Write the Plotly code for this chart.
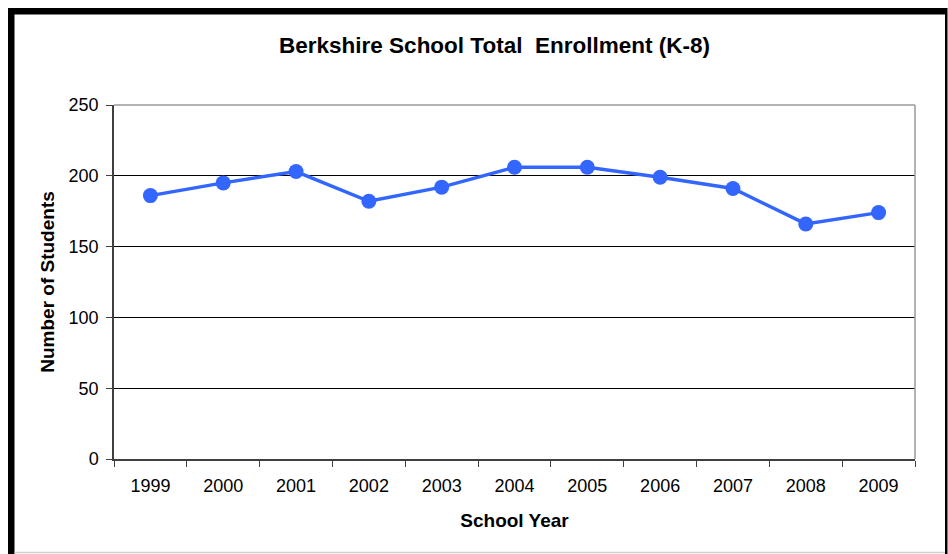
import plotly.graph_objects as go

years = ["1999", "2000", "2001", "2002", "2003", "2004", "2005", "2006", "2007", "2008", "2009"]
students = [186, 195, 203, 182, 192, 206, 206, 199, 191, 166, 174]
y_ticks = [0, 50, 100, 150, 200, 250]

W, H = 948, 554
L, R, T, B = 114, 33, 105, 95
pw, ph = W - L - R, H - T - B

def px_x(p):
    return (p - L) / pw

def px_y(p):
    return (H - B - p) / ph

fig = go.Figure()
fig.add_trace(go.Scatter(
    x=years, y=students, mode="lines+markers",
    line=dict(color="#3366FF", width=3.5),
    marker=dict(color="#3366FF", size=15),
    cliponaxis=False, showlegend=False,
))

font = "Liberation Sans, Arial, sans-serif"
fig.update_layout(
    width=W, height=H,
    margin=dict(l=L, r=R, t=T, b=B),
    paper_bgcolor="white", plot_bgcolor="white",
    font=dict(family=font, color="black", size=18),
    title=dict(text="<b>Berkshire School Total  Enrollment (K-8)</b>",
               x=px_x(494.5), xref="paper", xanchor="center",
               y=1 - 45 / H, yanchor="middle",
               font=dict(size=22.5, family=font, color="black")),
    xaxis=dict(type="category", range=[-0.5, 10.5], tickson="boundaries",
               ticks="outside", ticklen=6, tickcolor="#404040",
               showline=True, linecolor="#404040", linewidth=1.5,
               showgrid=False, zeroline=False,
               tickfont=dict(size=18), ticklabelstandoff=10,
               title=dict(text="<b>School Year</b>", font=dict(size=19), standoff=18)),
    yaxis=dict(range=[0, 250], tickvals=y_ticks, ticks="outside", ticklen=6,
               tickcolor="#404040", showline=True, linecolor="#404040", linewidth=1.5,
               showgrid=True, gridcolor="black", gridwidth=1, zeroline=False,
               tickfont=dict(size=18), ticklabelstandoff=4,
               title=dict(text="<b>Number of Students</b>", font=dict(size=19), standoff=9)),
)

shapes = [
    # plot-area top and right border (gray)
    dict(type="line", xref="paper", yref="paper", x0=0, x1=1, y0=1, y1=1,
         line=dict(color="#9a9a9a", width=1.5), layer="above"),
    dict(type="line", xref="paper", yref="paper", x0=1, x1=1, y0=0, y1=1,
         line=dict(color="#9a9a9a", width=1.5), layer="above"),
    # outer frame: thick black top and left, thin right
    dict(type="rect", xref="paper", yref="paper", x0=px_x(8), x1=px_x(947), y0=px_y(8), y1=px_y(14.5),
         fillcolor="black", line=dict(width=0), layer="above"),
    dict(type="rect", xref="paper", yref="paper", x0=px_x(8), x1=px_x(14.5), y0=px_y(8), y1=px_y(554),
         fillcolor="black", line=dict(width=0), layer="above"),
    dict(type="rect", xref="paper", yref="paper", x0=px_x(945), x1=px_x(947.5), y0=px_y(8), y1=px_y(554),
         fillcolor="black", line=dict(width=0), layer="above"),
    dict(type="line", xref="paper", yref="paper", x0=px_x(14.5), x1=px_x(945), y0=px_y(552.5), y1=px_y(552.5),
         line=dict(color="#d0d0d0", width=1.5), layer="above"),
]
fig.update_layout(shapes=shapes)

fig.write_html("out.html")
